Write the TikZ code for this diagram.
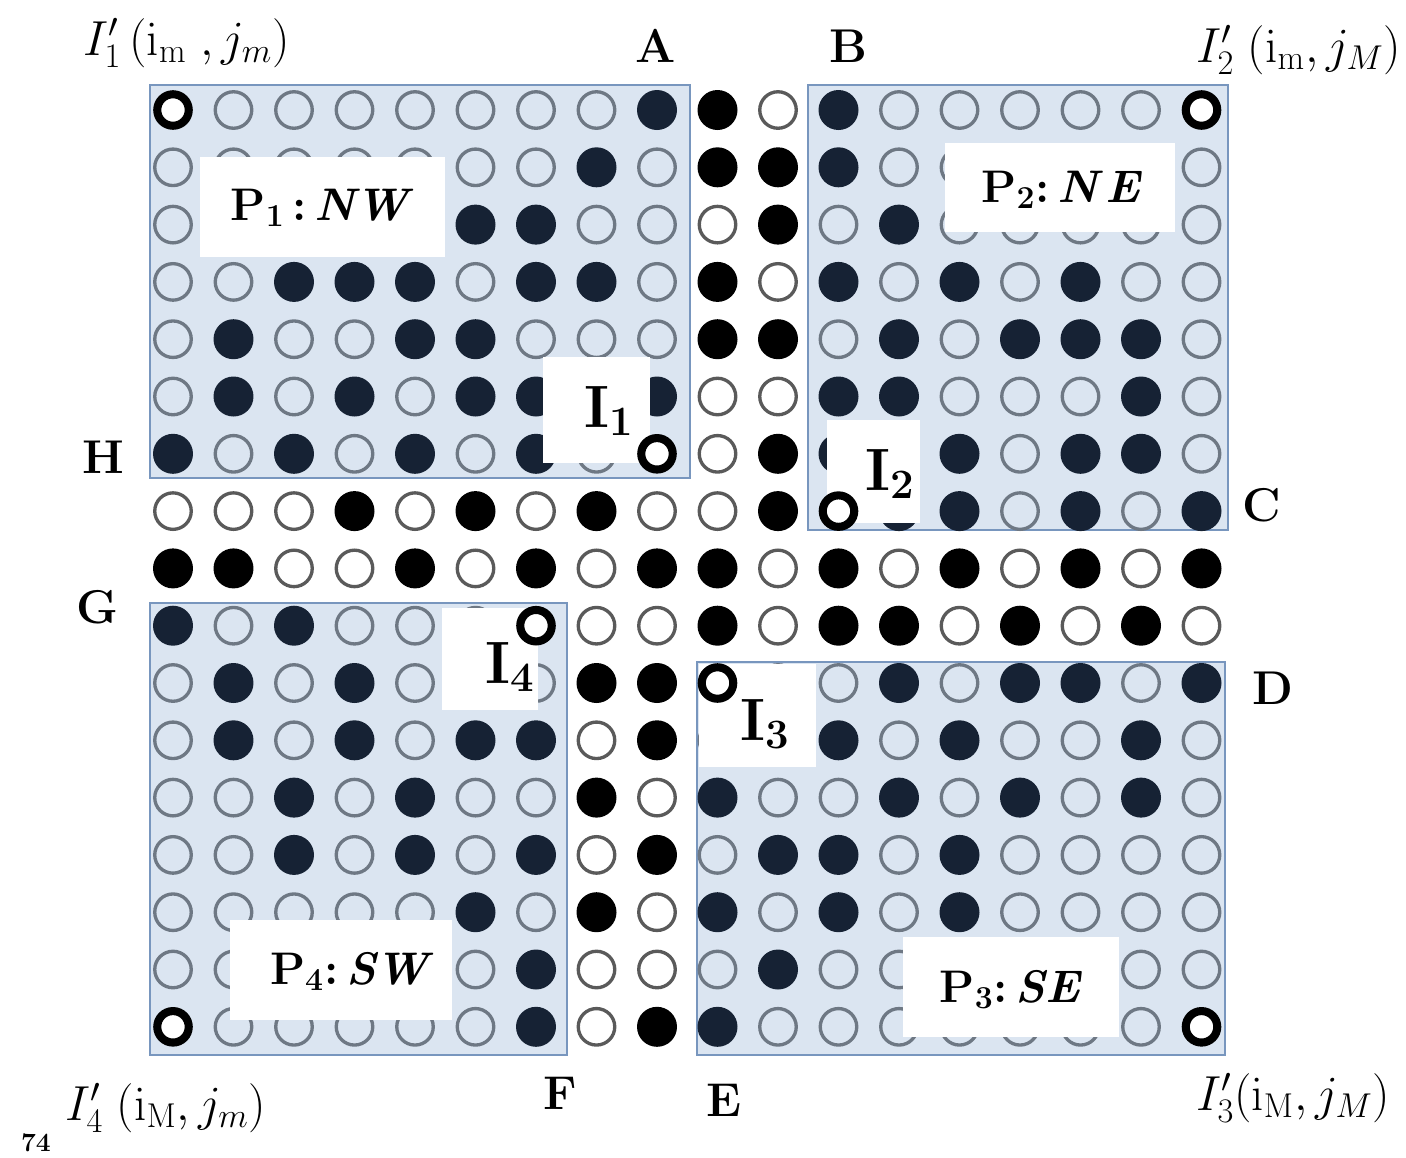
\RequirePackage{fix-cm}
\documentclass[tikz,border=0pt]{standalone}
\usetikzlibrary{positioning}
\definecolor{PanelFill}{RGB}{219,229,241}
\definecolor{PanelEdge}{RGB}{120,150,190}
\definecolor{DotNavy}{RGB}{22,34,52}
\definecolor{DotRing}{RGB}{110,120,132}
\definecolor{OuterRing}{RGB}{90,90,90}
\tikzset{
  panel/.style={draw=PanelEdge,fill=PanelFill,line width=1.1pt},
  dotd/.style={circle,fill=DotNavy,minimum size=0.8cm,inner sep=0pt},
  dotl/.style={circle,draw=DotRing,fill=PanelFill,line width=1.9pt,minimum size=0.73cm,inner sep=0pt},
  dotk/.style={circle,fill=black,minimum size=0.8cm,inner sep=0pt},
  dotw/.style={circle,draw=OuterRing,fill=white,line width=1.9pt,minimum size=0.73cm,inner sep=0pt},
  corner/.style={circle,draw=black,fill=white,line width=4.6pt,minimum size=0.63cm,inner sep=0pt},
  plabel/.style={font=\fontsize{26}{30}\selectfont\bfseries,anchor=base,inner sep=0pt},
  ilabel/.style={font=\fontsize{34}{40}\selectfont\bfseries,anchor=base,inner sep=0pt},
  letter/.style={font=\fontsize{27}{30}\selectfont\bfseries,inner sep=0pt},
  cornertext/.style={font=\fontsize{28}{32}\selectfont,anchor=base west,inner sep=0pt}
}

\begin{document}
\begin{tikzpicture}[x=0.02cm,y=-0.02cm]
  \useasboundingbox (0,0) rectangle (1406,1157);

  % the four sub-images
  \draw[panel] (150,85) rectangle (690,478);
  \draw[panel] (808,85) rectangle (1228,530);
  \draw[panel] (150,603) rectangle (567,1055);
  \draw[panel] (697,662) rectangle (1225,1055);

  % pixel grid: d/l inside a panel, k/w outside, b = corner point
  \foreach \cells [count=\rw from 0] in {
    {b,l,l,l,l,l,l,l,d,k,w,d,l,l,l,l,l,b},
    {l,l,l,l,l,l,l,d,l,k,k,d,l,l,l,l,l,l},
    {l,l,l,l,l,d,d,l,l,w,k,l,d,l,l,l,l,l},
    {l,l,d,d,d,l,d,d,l,k,w,d,l,d,l,d,l,l},
    {l,d,l,l,d,d,l,l,l,k,k,l,d,l,d,d,d,l},
    {l,d,l,d,l,d,d,l,d,w,w,d,d,l,l,l,d,l},
    {d,l,d,l,d,l,d,l,b,w,k,d,l,d,l,d,d,l},
    {w,w,w,k,w,k,w,k,w,w,k,b,d,d,l,d,l,d},
    {k,k,w,w,k,w,k,w,k,k,w,k,w,k,w,k,w,k},
    {d,l,d,l,l,l,b,w,w,k,w,k,k,w,k,w,k,w},
    {l,d,l,d,l,l,l,k,k,b,l,l,d,l,d,d,l,d},
    {l,d,l,d,l,d,d,w,k,l,l,d,l,d,l,l,d,l},
    {l,l,d,l,d,l,l,k,w,d,l,l,d,l,d,l,d,l},
    {l,l,d,l,d,l,d,w,k,l,d,d,l,d,l,l,l,l},
    {l,l,l,l,l,d,l,k,w,d,l,d,l,d,l,l,l,l},
    {l,l,l,l,l,l,d,w,w,l,d,l,l,l,l,l,l,l},
    {b,l,l,l,l,l,d,w,k,d,l,l,l,l,l,l,l,b}} {
    \foreach \kind [count=\cl from 0] in \cells {
      \coordinate (p\rw-\cl) at (173+60.5*\cl,110+57.3*\rw);
      \if b\kind\else \node[dot\kind] (d\rw-\cl) at (p\rw-\cl) {};\fi
    }
  }

  % white tags
  \fill[white] (200,157) rectangle (445,257);
  \fill[white] (945,143) rectangle (1175,232);
  \fill[white] (230,920) rectangle (452,1020);
  \fill[white] (903,937) rectangle (1119,1037);
  \fill[white] (543,357) rectangle (650,463);
  \fill[white] (827,420) rectangle (920,523);
  \fill[white] (699,664) rectangle (816,767);
  \fill[white] (442,608) rectangle (538,710);

  % corner points
  \node[corner] (c1) at (p0-0) {};
  \node[corner] (c2) at (p0-17) {};
  \node[corner] (c3) at (p16-17) {};
  \node[corner] (c4) at (p16-0) {};
  \node[corner] (i1) at (p6-8) {};
  \node[corner] (i2) at (p7-11) {};
  \node[corner] (i3) at (p10-9) {};
  \node[corner] (i4) at (p9-6) {};

  \node[plabel] (nw) at (322,220) {P\textsubscript{1}\,:\,\textit{NW}};
  \node[plabel] (ne) at (1062,202) {P\textsubscript{2}:\,\textit{N\,E}};
  \node[plabel] (sw) at (352,984) {P\textsubscript{4}:\,\textit{SW}};
  \node[plabel] (se) at (1011,1002) {P\textsubscript{3}:\,\textit{SE}};

  \node[ilabel] (i1t) at (609,427) {I\textsubscript{1}};
  \node[ilabel] (i2t) at (890,490) {I\textsubscript{2}};
  \node[ilabel] (i3t) at (765,740) {I\textsubscript{3}};
  \node[ilabel] (i4t) at (510,683) {I\textsubscript{4}};

  \node[letter] (la) at (656,46) {A};
  \node[letter] (lb) at (848,46) {B};
  \node[letter] (lc) at (1262,505) {C};
  \node[letter] (ld) at (1273,688) {D};
  \node[letter] (le) at (724,1100) {E};
  \node[letter] (lf) at (560,1093) {F};
  \node[letter] (lg) at (97,607) {G};
  \node[letter] (lh) at (103,457) {H};

  \node[cornertext] (t1) at (83,55) {$I_1'\,(\mathrm{i}_{\mathrm{m}}\;,j_m)$};
  \node[cornertext] (t2) at (1196,62) {$I_2'\;(\mathrm{i}_{\mathrm{m}},j_M)$};
  \node[cornertext] (t3) at (1196,1110) {$I_3'(\mathrm{i}_{\mathrm{M}},j_M)$};
  \node[cornertext] (t4) at (65,1120) {$I_4'\;(\mathrm{i}_{\mathrm{M}},j_m)$};
  \node[font=\fontsize{15}{18}\selectfont\bfseries] (pg) at (36,1143) {74};
\end{tikzpicture}
\end{document}
